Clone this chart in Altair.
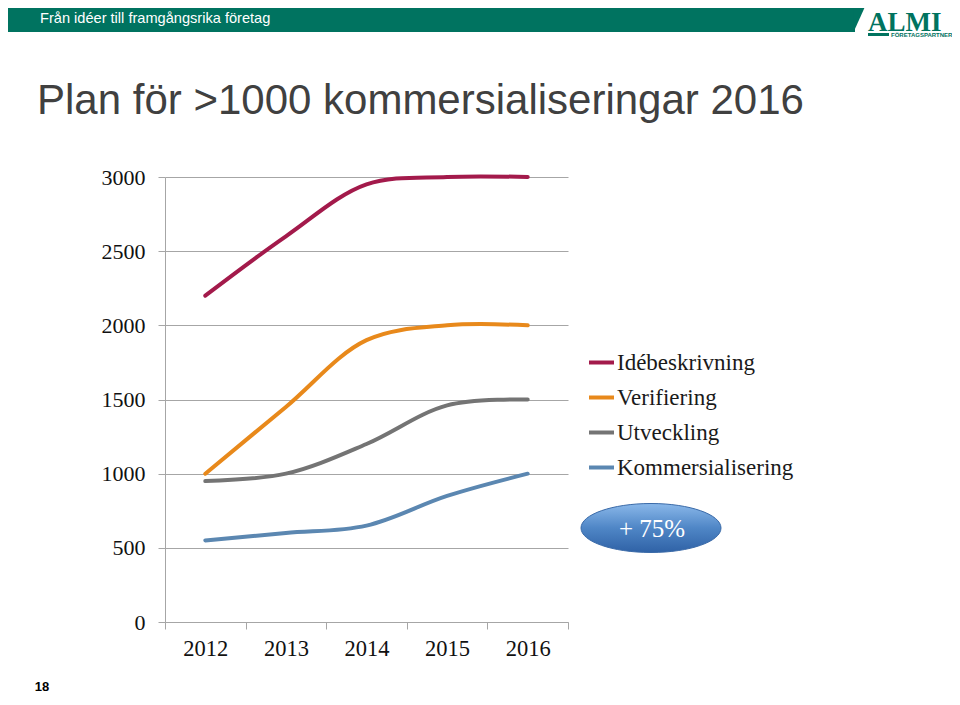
import altair as alt
import pandas as pd

# ---- data ----
years = ["2012", "2013", "2014", "2015", "2016"]
series_names = ["Idébeskrivning", "Verifiering", "Utveckling", "Kommersialisering"]
idebeskrivning = [2200, 2600, 2950, 3000, 3000]
verifiering = [1000, 1450, 1900, 2000, 2000]
utveckling = [950, 1000, 1200, 1460, 1500]
kommersialisering = [550, 600, 650, 850, 1000]
series_colors = ["#A31A4B", "#E8891B", "#747474", "#5B87B1"]
y_ticks = [0, 500, 1000, 1500, 2000, 2500, 3000]

values = [idebeskrivning, verifiering, utveckling, kommersialisering]
rows = []
for name, vals in zip(series_names, values):
    for yr, v in zip(years, vals):
        rows.append({"År": yr, "Serie": name, "Antal": v})
df = pd.DataFrame(rows)

# ---- layout (pixel geometry of the slide) ----
PLOT_W, PLOT_H = 403, 445
PAD_L, PAD_T = 157, 169
TOTAL_W, TOTAL_H = 944, 686
OX, OY = PAD_L + 8, PAD_T + 8  # plot origin in page coords


def px(x):
    return x - OX


def py(y):
    return y - OY


serif = "Liberation Serif"
sans = "Liberation Sans"

lines = alt.Chart(df).mark_line(
    strokeWidth=4, interpolate="catmull-rom", strokeCap="round", clip=False
).encode(
    x=alt.X(
        "År:N",
        sort=years,
        bandPosition=0.5,
        scale=alt.Scale(type="band", paddingInner=0, paddingOuter=0),
        axis=alt.Axis(
            title=None,
            labelAngle=0,
            labelFont=serif,
            labelFontSize=22.5,
            labelColor="#111111",
            labelPadding=8,
            tickBand="extent",
            tickSize=7,
            tickColor="#A6A6A6",
            domainColor="#A6A6A6",
            grid=False,
        ),
    ),
    y=alt.Y(
        "Antal:Q",
        scale=alt.Scale(domain=[0, 3000], nice=False),
        axis=alt.Axis(
            title=None,
            values=y_ticks,
            format="d",
            labelFont=serif,
            labelFontSize=22,
            labelColor="#111111",
            labelPadding=13,
            tickSize=7,
            tickColor="#A6A6A6",
            domainColor="#A6A6A6",
            gridColor="#A6A6A6",
            grid=True,
        ),
    ),
    color=alt.Color(
        "Serie:N",
        sort=series_names,
        scale=alt.Scale(domain=series_names, range=series_colors),
        legend=alt.Legend(
            title=None,
            orient="none",
            legendX=px(587),
            legendY=py(348),
            symbolType="stroke",
            symbolStrokeWidth=4,
            symbolSize=625,
            labelFont=serif,
            labelFontSize=23,
            labelColor="#1A1A1A",
            labelOffset=1,
            rowPadding=8,
            padding=0,
            labelLimit=400,
        ),
    ),
)


def one():
    return alt.Chart(pd.DataFrame({"k": [0]}))


header = one().mark_rect(color="#007360").encode(
    x=alt.value(px(8)), x2=alt.value(px(855)), y=alt.value(py(8)), y2=alt.value(py(32))
)
header_tip = one().mark_point(
    shape="M -0.45 -1 L 0.45 -1 L -0.45 1 Z", filled=True, color="#007360", opacity=1, size=576
).encode(x=alt.value(px(859)), y=alt.value(py(20)))

header_text = one().mark_text(
    text="Från idéer till framgångsrika företag", font=sans, fontSize=14.6,
    color="white", align="left", baseline="alphabetic"
).encode(x=alt.value(px(40)), y=alt.value(py(23)))

almi = one().mark_text(
    text="ALMI", font=serif, fontSize=27, fontWeight="bold", color="#00735F",
    align="left", baseline="alphabetic"
).encode(x=alt.value(px(868)), y=alt.value(py(31)))
almi_bar = one().mark_rect(color="#00735F").encode(
    x=alt.value(px(868)), x2=alt.value(px(889)), y=alt.value(py(33)), y2=alt.value(py(36))
)
almi_sub = one().mark_text(
    text="FÖRETAGSPARTNER", font=sans, fontSize=6, fontWeight="bold", color="#00735F",
    align="left", baseline="alphabetic"
).encode(x=alt.value(px(891)), y=alt.value(py(37)))

title = one().mark_text(
    text="Plan för >1000 kommersialiseringar 2016", font=sans, fontSize=42,
    color="#404040", align="left", baseline="alphabetic"
).encode(x=alt.value(px(37)), y=alt.value(py(114)))

oval = one().mark_point(
    shape="M -1 0 A 1 0.35 0 1 1 1 0 A 1 0.35 0 1 1 -1 0 Z",
    size=140 * 140,
    filled=True,
    opacity=1,
    fill=alt.Gradient(
        gradient="linear",
        stops=[
            alt.GradientStop(color="#8AB8EA", offset=0),
            alt.GradientStop(color="#4F86C6", offset=0.5),
            alt.GradientStop(color="#2F62A6", offset=1),
        ],
        x1=0, x2=0, y1=0, y2=1,
    ),
    stroke="#3A6AA8",
    strokeWidth=1,
).encode(x=alt.value(px(651)), y=alt.value(py(528)))

oval_text = one().mark_text(
    text="+ 75%", font=serif, fontSize=25, color="white", align="center", baseline="middle"
).encode(x=alt.value(px(652)), y=alt.value(py(529)))

page_no = one().mark_text(
    text="18", font=sans, fontSize=13, fontWeight="bold", color="#000000",
    align="center", baseline="alphabetic"
).encode(x=alt.value(px(42)), y=alt.value(py(691)))

chart = alt.layer(
    header, header_tip, header_text, almi, almi_bar, almi_sub, title,
    lines, oval, oval_text, page_no
).properties(
    width=PLOT_W,
    height=PLOT_H,
    padding={"left": PAD_L, "top": PAD_T, "right": TOTAL_W - PAD_L - PLOT_W,
             "bottom": TOTAL_H - PAD_T - PLOT_H},
    autosize=alt.AutoSizeParams(type="none"),
    background="white",
).configure_view(stroke=None)

chart.save("out.html", embed_options={"renderer": "svg", "actions": False})
